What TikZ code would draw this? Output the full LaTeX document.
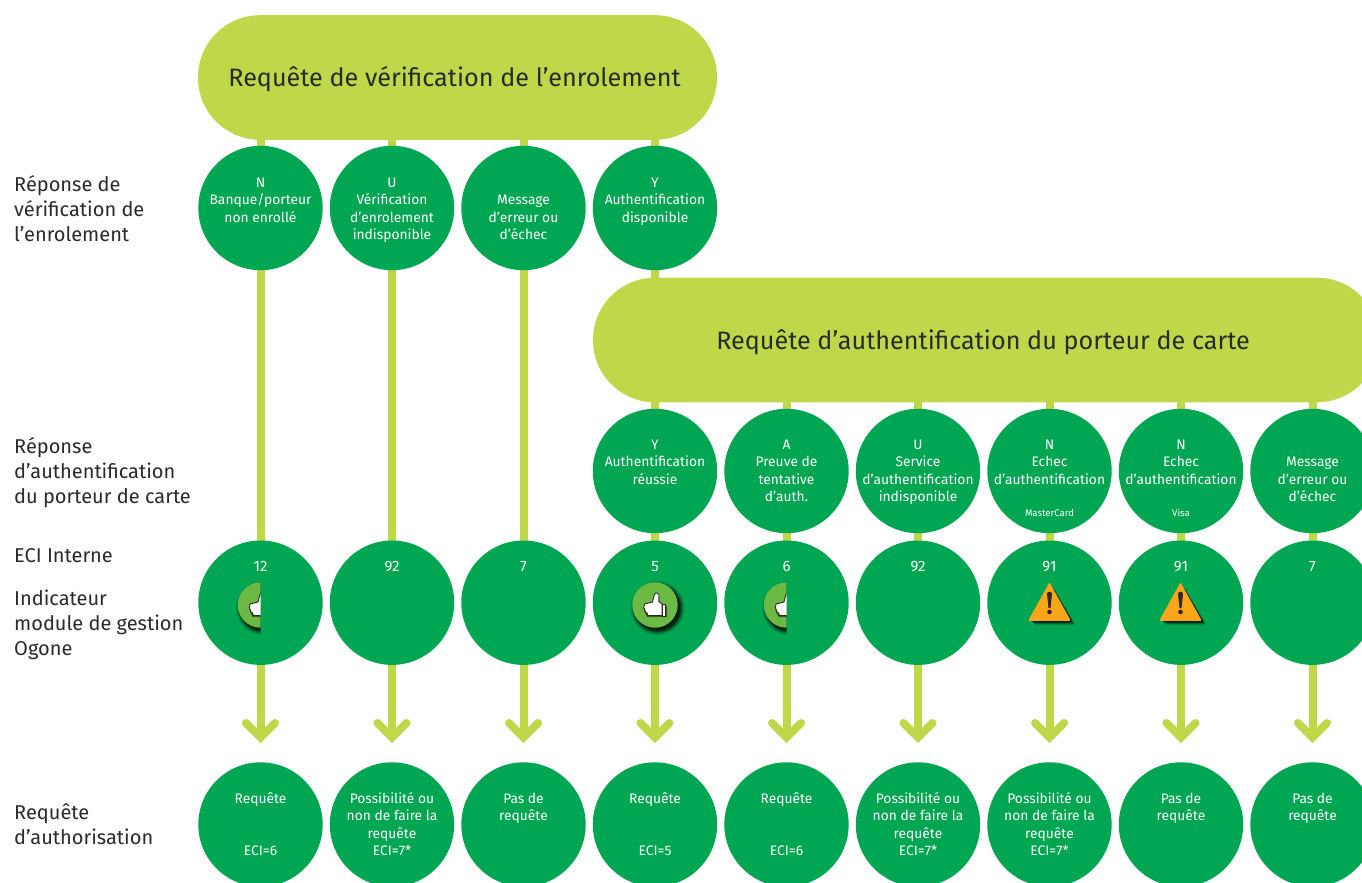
\documentclass[tikz,border=0pt]{standalone}
\usepackage{fontspec}
\setmainfont{Fira Sans}
\usetikzlibrary{backgrounds}
\definecolor{vert}{HTML}{00A651}
\definecolor{citron}{HTML}{BFD84A}
\definecolor{encre}{HTML}{2B2A29}
\definecolor{pastille}{HTML}{6CB946}
\definecolor{alerte}{HTML}{FAA61A}
\tikzset{
  rond/.style={circle,fill=vert,minimum size=124.4pt,inner sep=0pt,outer sep=0pt},
  barre/.style={rounded corners=62pt,fill=citron,minimum height=124.6pt,inner sep=0pt,outer sep=0pt},
  lien/.style={draw=citron,line width=8pt},
  pointe/.style={draw=citron,line width=8pt,line cap=round,miter limit=10},
  lab/.style={text=white,font=\fontsize{13.8}{17.5}\selectfont,align=center,inner sep=0pt,anchor=north},
  num/.style={lab,font=\fontsize{15}{17.5}\selectfont},
  mini/.style={text=white,font=\fontsize{9.6}{10}\selectfont,inner sep=0pt},
  titre/.style={text=encre,font=\fontsize{25.2}{30}\selectfont,inner sep=0pt,anchor=base},
  gauche/.style={text=encre,font=\fontsize{20}{25}\selectfont,align=left,inner sep=0pt,anchor=north west},
}
\newcommand{\ronde}[5]{%
  \node[rond] (#1) at (#2,#3) {};
  \node[lab] (#1-t) at (#2,#3-#4) {\rule{0pt}{13pt}#5};}
\newcommand{\rondn}[4]{%
  \node[rond] (#1) at (#2,#3) {};
  \node[num] (#1-t) at (#2,#3-44.7) {\rule{0pt}{13pt}#4};}
\newcommand{\fleche}[2]{%
  \coordinate (f#1) at (#2,737.5);
  \draw[lien] (r3#1.center) -- (f#1);
  \draw[pointe] ([shift={(-14.5,-14.5)}]f#1) -- (f#1) -- ([shift={(14.5,-14.5)}]f#1);}
\newcommand{\pouce}[2]{%
  \begin{scope}[shift={(#1,#2)}]
    \foreach \r/\o in {27/.10,26/.15,25/.2,24/.3,23/.5}{\fill[black,opacity=\o] (2.5,3) circle (\r);}
    \fill[pastille] (0,0) circle (22.7);
    \fill[black,opacity=.5] (1,1) -- (-10,0) -- (-11,6) -- (-8,12) -- (12,12) -- (12,1) -- cycle;
    \draw[fill=white,draw=encre,line width=.9pt,line join=round]
      (-10.5,-1) -- (-2.5,-3) -- (-1,-9) -- (0,-11.5) -- (2,-12) -- (4,-10.5) -- (3.8,-3.5) -- (7,-1) -- (7,10.5)
      -- (-7,10.5) -- (-8,8) -- (-9.5,7) -- (-10.5,4) -- (-11.2,3) -- cycle;
    \fill[white,draw=encre,line width=.9pt] (7,-1) rectangle (10.8,11);
  \end{scope}}
\newcommand{\danger}[2]{%
  \begin{scope}[shift={(#1,#2)}]
    \foreach \d/\o in {5/.15,4/.25,3/.4,2/.5}{\fill[black,opacity=\o,rounded corners=1pt] (\d,-19+\d) -- (21+\d,17+\d) -- (-20+\d,17+\d) -- cycle;}
    \fill[alerte,draw=alerte,line width=1.6pt,line join=round] (0,-19) -- (20,17) -- (-20,17) -- cycle;
    \fill[encre] (-2.5,-9) .. controls (-2.5,-12) and (2.5,-12) .. (2.5,-9) -- (1,5) -- (-1,5) -- cycle;
    \fill[encre] (0,9) circle (2.3);
  \end{scope}}
\begin{document}
\begin{tikzpicture}[x=1pt,y=-1pt]
\clip (0,0) rectangle (1362,883);
% barres
\node[barre,minimum width=519pt] (p1) at (457.5,77.5) {};
\node[barre,minimum width=786pt] (p2) at (986,340) {};
\node[titre] (p1t) at (454.5,86) {Requête de vérification de l’enrolement};
\node[titre] (p2t) at (983,349) {Requête d’authentification du porteur de carte};
% rangee 1
\ronde{r1a}{260.5}{208}{34}{N\\Banque/porteur\\non enrollé}
\ronde{r1b}{392}{208}{34}{U\\Vérification\\d’enrolement\\indisponible}
\ronde{r1c}{523.5}{208}{34}{~\\Message\\d’erreur ou\\d’échec}
\ronde{r1d}{655}{208}{34}{Y\\Authentification\\disponible}
% rangee 2
\ronde{r2d}{655}{471}{35}{Y\\Authentification\\réussie}
\ronde{r2e}{786.5}{471}{35}{A\\Preuve de\\tentative\\d’auth.}
\ronde{r2f}{918}{471}{35}{U\\Service\\d’authentification\\indisponible}
\ronde{r2g}{1049.5}{471}{35}{N\\Echec\\d’authentification}
\ronde{r2h}{1181}{471}{35}{N\\Echec\\d’authentification}
\ronde{r2i}{1312.5}{471}{35}{~\\Message\\d’erreur ou\\d’échec}
\node[mini] (r2g-m) at (1049.5,512.5) {MasterCard};
\node[mini] (r2h-m) at (1181,512.5) {Visa};
% rangee 3
\rondn{r3a}{260.5}{602.7}{12}
\rondn{r3b}{392}{602.7}{92}
\rondn{r3c}{523.5}{602.7}{7}
\rondn{r3d}{655}{602.7}{5}
\rondn{r3e}{786.5}{602.7}{6}
\rondn{r3f}{918}{602.7}{92}
\rondn{r3g}{1049.5}{602.7}{91}
\rondn{r3h}{1181}{602.7}{91}
\rondn{r3i}{1312.5}{602.7}{7}
% rangee 4
\ronde{r4a}{260.5}{824.5}{34.5}{Requête\\~\\~\\ECI=6}
\ronde{r4b}{392}{824.5}{34.5}{Possibilité ou\\non de faire la\\requête\\ECI=7*}
\ronde{r4c}{523.5}{824.5}{34.5}{Pas de\\requête}
\ronde{r4d}{655}{824.5}{34.5}{Requête\\~\\~\\ECI=5}
\ronde{r4e}{786.5}{824.5}{34.5}{Requête\\~\\~\\ECI=6}
\ronde{r4f}{918}{824.5}{34.5}{Possibilité ou\\non de faire la\\requête\\ECI=7*}
\ronde{r4g}{1049.5}{824.5}{34.5}{Possibilité ou\\non de faire la\\requête\\ECI=7*}
\ronde{r4h}{1181}{824.5}{34.5}{Pas de\\requête}
\ronde{r4i}{1312.5}{824.5}{34.5}{Pas de\\requête}
% liens
\begin{scope}[on background layer]
  \foreach \c in {a,b,c,d}{\draw[lien] (r1\c.center) -- (r1\c.center |- p1.center);}
  \foreach \c in {a,b,c}{\draw[lien] (r1\c.center) -- (r3\c.center);}
  \draw[lien] (r1d.center) -- (r1d.center |- p2.center);
  \foreach \c in {d,e,f,g,h,i}{
    \draw[lien] (r2\c.center) -- (r2\c.center |- p2.center);
    \draw[lien] (r2\c.center) -- (r3\c.center);}
  \fleche{a}{260.5}\fleche{b}{392}\fleche{c}{523.5}\fleche{d}{655}\fleche{e}{786.5}
  \fleche{f}{918}\fleche{g}{1049.5}\fleche{h}{1181}\fleche{i}{1312.5}
\end{scope}
% pictogrammes
\begin{scope}\clip (225,570) rectangle (260.5,640);\pouce{260.5}{605}\end{scope}
\pouce{655}{605}
\begin{scope}\clip (750,570) rectangle (786.5,640);\pouce{786.5}{605}\end{scope}
\danger{1049.5}{603}
\danger{1180.5}{603}
% textes de gauche
\node[gauche] (g1) at (14,175) {Réponse de\\vérification de\\l’enrolement};
\node[gauche] (g2) at (14,437) {Réponse\\d’authentification\\du porteur de carte};
\node[gauche] (g3) at (14,548) {ECI Interne};
\node[gauche] (g4) at (14,590) {Indicateur\\module de gestion\\Ogone};
\node[gauche] (g5) at (14,803) {Requête\\d’authorisation};
\end{tikzpicture}
\end{document}
